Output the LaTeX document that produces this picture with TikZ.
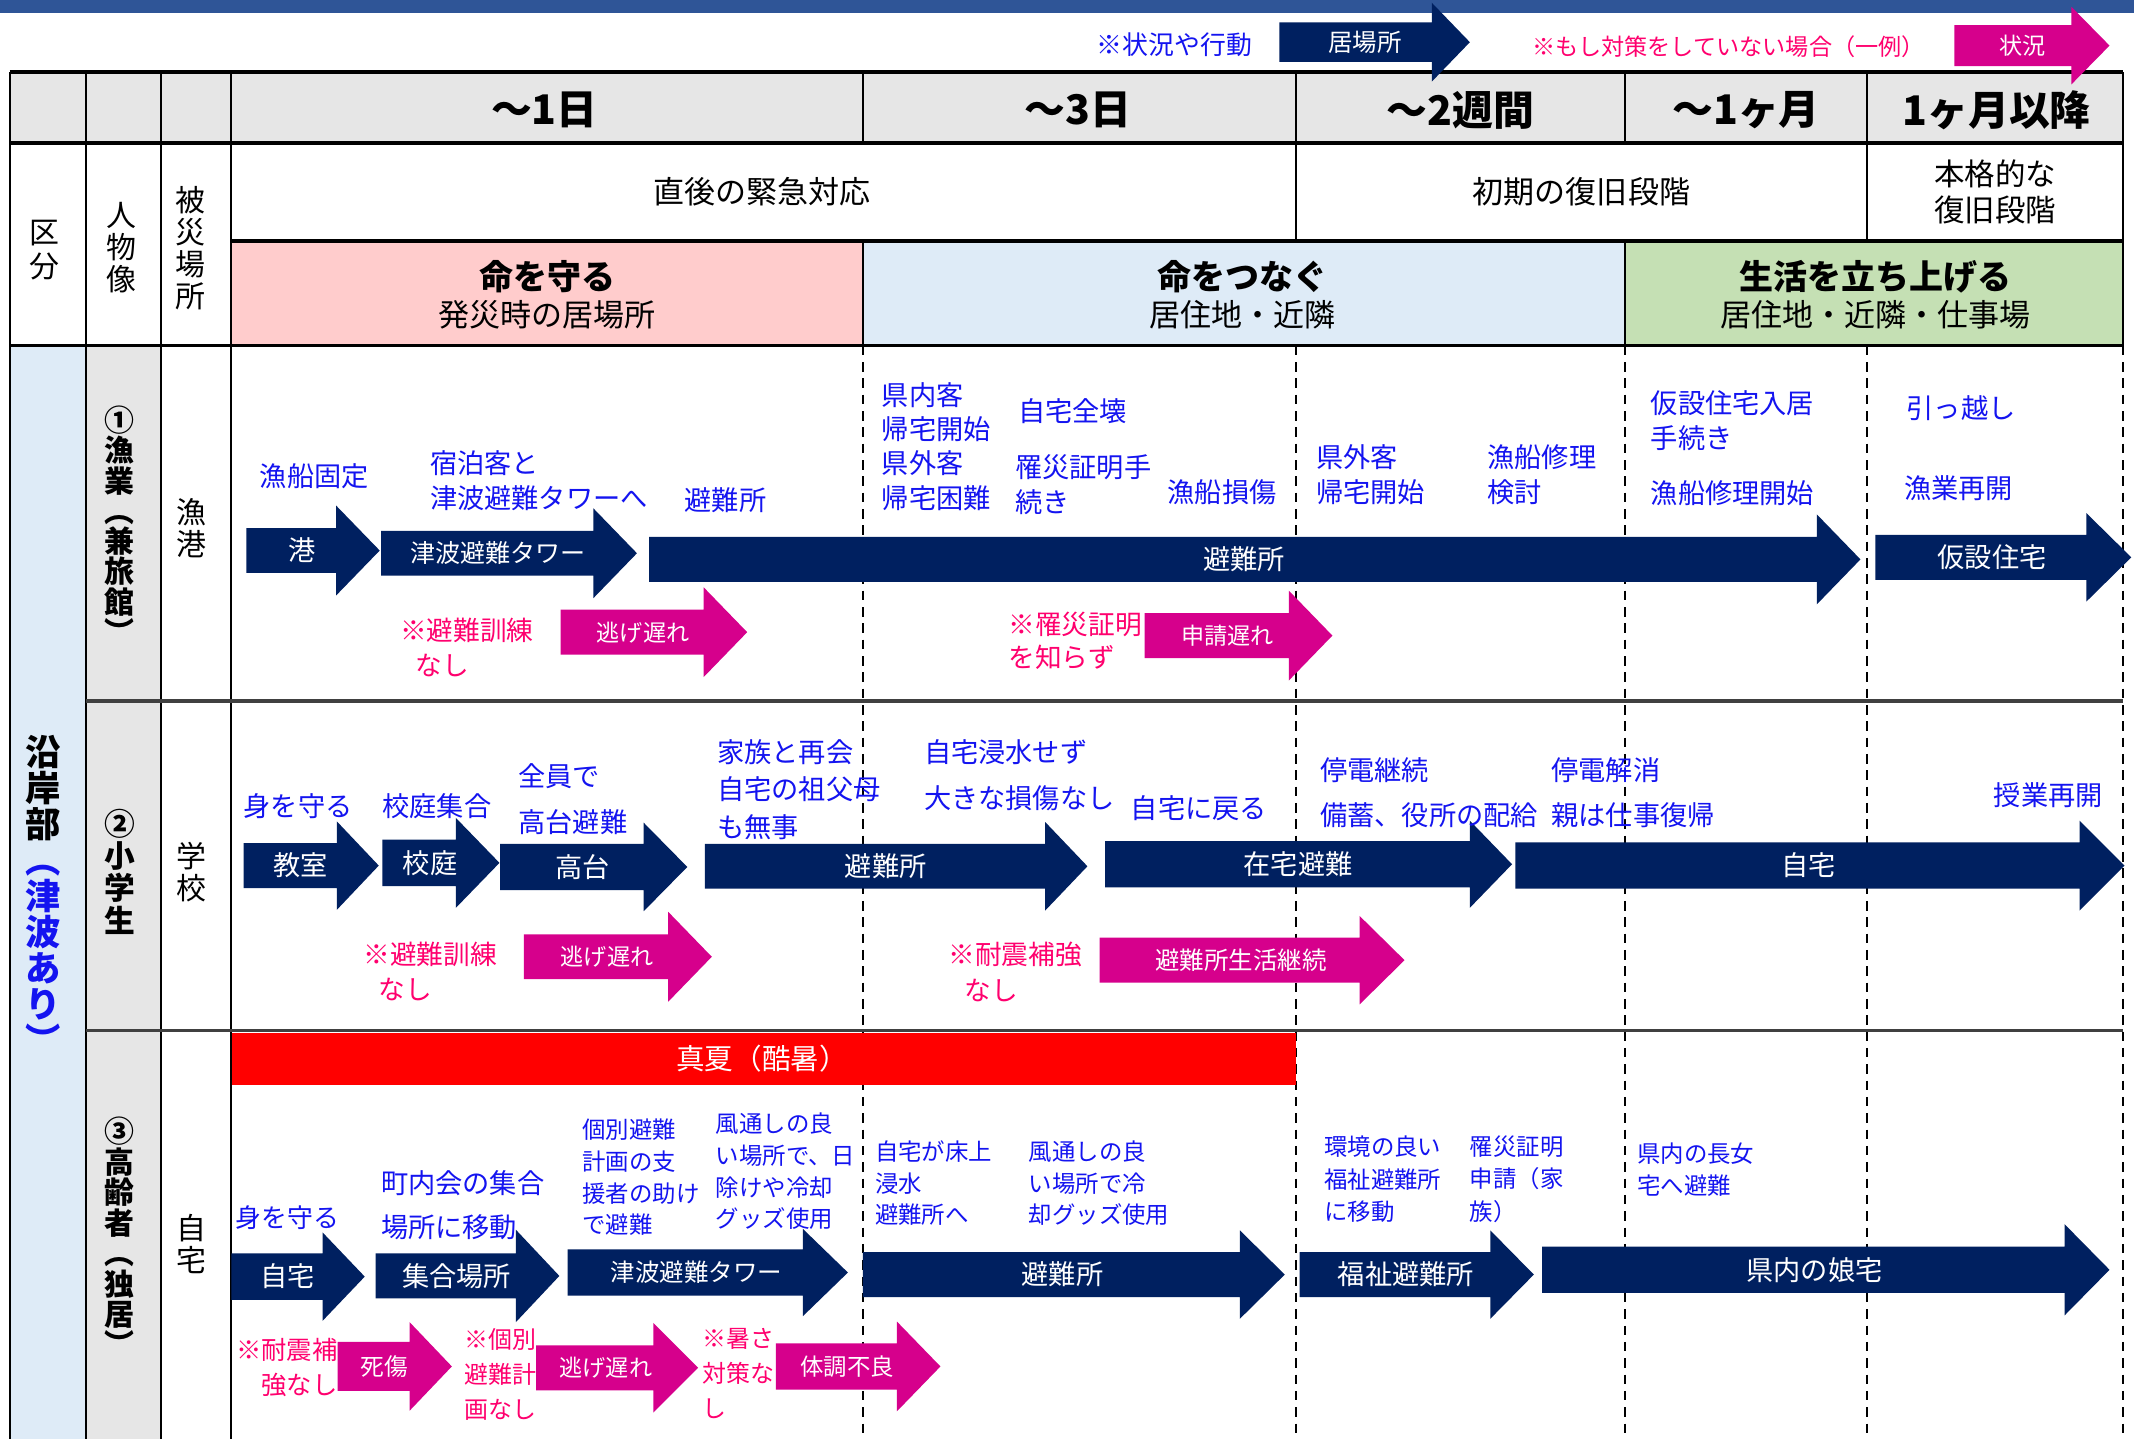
\documentclass[tikz,border=0pt]{standalone}
\usepackage{fontspec}
\setmainfont{Noto Sans CJK JP}
\definecolor{navy}{RGB}{0,32,96}
\definecolor{mag}{RGB}{214,0,140}
\definecolor{tblue}{RGB}{20,20,240}
\definecolor{tpink}{RGB}{255,0,110}
\definecolor{topbar}{RGB}{47,85,151}
\definecolor{hgray}{RGB}{230,230,230}
\definecolor{cpink}{RGB}{255,204,204}
\definecolor{cblue}{RGB}{222,235,247}
\definecolor{cgreen}{RGB}{197,224,180}
\definecolor{sepgray}{RGB}{64,64,64}
\newcommand\fs[2]{\fontsize{#1}{#2}\selectfont}
\tikzset{
  tx/.style={inner sep=0pt, outer sep=0pt},
  bluetxt/.style={tx, text=tblue, align=left, anchor=west, font=\fs{10}{12.8}},
  pinktxt/.style={tx, text=tpink, align=left, anchor=west, font=\fs{9.8}{12.8}},
  arrtxt/.style={tx, text=white, font=\fs{10}{12}},
  headtxt/.style={tx, font=\fs{15}{18}\bfseries},
  plaintxt/.style={tx, font=\fs{11.4}{14}},
  titletxt/.style={tx, font=\fs{12.5}{15}\bfseries},
  verttxt/.style={tx, align=center},
  thinline/.style={line width=0.75pt, black},
  thickline/.style={line width=1.3pt, black},
  sepline/.style={line width=1.2pt, sepgray},
  dashline/.style={line width=0.75pt, black, dash pattern=on 3.5pt off 2.5pt},
}
\newcommand\myarrow[9]{%
  \fill[#1] (#2,#5-#6) -- (#3,#5-#6) -- (#3,#5-#7) -- (#4,#5) -- (#3,#5+#7) -- (#3,#5+#6) -- (#2,#5+#6) -- cycle;
  \node[arrtxt] (#8) at ({(2*#2+#3+#4)/4},#5) {#9};}
\begin{document}
\begin{tikzpicture}[x=0.5pt,y=-0.5pt]
\useasboundingbox (0,0) rectangle (1568,1057);
\fill[white] (0,0) rectangle (1568,1057);
\fill[topbar] (0,0) rectangle (1568,9.5);
% cell fills
\fill[hgray] (7,53) rectangle (1560,105);
\fill[cpink] (170,177) rectangle (634,254);
\fill[cblue] (634,177) rectangle (1194,254);
\fill[cgreen] (1194,177) rectangle (1560,254);
\fill[cblue] (7,254) rectangle (63,1057);
\fill[hgray] (63,254) rectangle (118,1057);
% dashed time lines
\foreach \x in {634,952,1194,1372,1560} \draw[dashline] (\x,254) -- (\x,1057);
% heat bar
\fill[red] (170,759) rectangle (952,797);
% solid grid
\foreach \x in {7,63,118,170} \draw[thinline] (\x,53) -- (\x,1057);
\foreach \x in {634,952,1194,1372} \draw[thinline] (\x,53) -- (\x,105);
\draw[thinline] (1560,53) -- (1560,254);
\foreach \x in {952,1372} \draw[thinline] (\x,105) -- (\x,177);
\foreach \x in {634,1194} \draw[thinline] (\x,177) -- (\x,254);
\foreach \y in {53,105,254} \draw[thickline] (7,\y) -- (1560,\y);
\draw[thickline] (170,177) -- (1560,177);
\foreach \y in {515,757} \draw[sepline] (63,\y) -- (1560,\y);

% legend
\node[tx, text=tblue, font=\fs{9.5}{11}] (lg1) at (863,33) {※状況や行動};
\myarrow{navy}{940}{1052}{1080}{31}{14.5}{29}{lg2}{\fs{9}{10}居場所}
\node[tx, text=tpink, font=\fs{8.5}{10}] (lg3) at (1270,34) {※もし対策をしていない場合（一例）};
\myarrow{mag}{1436}{1522}{1550}{33.5}{15}{28.5}{lg4}{\fs{8.5}{10}状況}

% header row
\node[headtxt] (h1) at (400,81) {～1日};
\node[headtxt] (h2) at (792,81) {～3日};
\node[headtxt] (h3) at (1073,81) {～2週間};
\node[headtxt] (h4) at (1283,81) {～1ヶ月};
\node[headtxt] (h5) at (1467,81) {1ヶ月以降};

\node[plaintxt] (p1) at (560,141) {直後の緊急対応};
\node[plaintxt] (p2) at (1162,141) {初期の復旧段階};
\node[plaintxt, align=center, font=\fs{11.2}{13.5}] (p3) at (1466,141) {本格的な\\復旧段階};

\node[titletxt] (t1) at (402,203) {命を守る};
\node[plaintxt] (s1) at (402,231.5) {発災時の居場所};
\node[titletxt] (t2) at (913,203) {命をつなぐ};
\node[plaintxt] (s2) at (913,231.5) {居住地・近隣};
\node[titletxt] (t3) at (1378,203) {生活を立ち上げる};
\node[plaintxt] (s3) at (1378,231.5) {居住地・近隣・仕事場};

\node[verttxt, font=\fs{11}{12.5}] (k1) at (33,183.5) {区\\分};
\node[verttxt, font=\fs{11}{11.7}] (k2) at (89,182) {人\\物\\像};
\node[verttxt, font=\fs{11}{11.8}] (k3) at (140,182.5) {被\\災\\場\\所};

% left columns
\node[verttxt, font=\fs{13}{13.25}\bfseries] (region) at (32,657) {沿\\岸\\部\\\textcolor{tblue}{︵}\\\textcolor{tblue}{津}\\\textcolor{tblue}{波}\\\textcolor{tblue}{あ}\\\textcolor{tblue}{り}\\\textcolor{tblue}{︶}};
\node[verttxt, font=\fs{11}{11.1}\bfseries] (pp1) at (88,385.5) {①\\漁\\業\\︵\\兼\\旅\\館\\︶};
\node[verttxt, font=\fs{11.3}{11.8}\bfseries] (pp2) at (88,640.5) {②\\小\\学\\生};
\node[verttxt, font=\fs{11}{11.2}\bfseries] (pp3) at (88,908.5) {③\\高\\齢\\者\\︵\\独\\居\\︶};
\node[verttxt, font=\fs{11}{11.75}] (pl1) at (141,388) {漁\\港};
\node[verttxt, font=\fs{11}{11.75}] (pl2) at (141,641) {学\\校};
\node[verttxt, font=\fs{11}{11.75}] (pl3) at (141,914) {自\\宅};

% row 1 arrows
\myarrow{navy}{181}{247}{279}{404.5}{16.5}{33}{n11}{港}
\myarrow{navy}{280}{436}{468}{406.5}{16.5}{33}{n12}{\fs{9.2}{11}津波避難タワー}
\myarrow{navy}{477}{1335}{1367}{411}{16.6}{33}{n13}{避難所}
\myarrow{navy}{1378}{1533}{1566}{409.5}{16.5}{32.5}{n14}{仮設住宅}
\myarrow{mag}{412}{517}{549}{464.5}{16.5}{33}{m11}{\fs{8.5}{10}逃げ遅れ}
\myarrow{mag}{841}{947}{979}{467}{16.5}{33}{m12}{\fs{8.5}{10}申請遅れ}

% row 1 texts
\node[bluetxt] (b11) at (191,350) {漁船固定};
\node[bluetxt, font=\fs{10}{12.8}] (b12) at (316,353) {宿泊客と\\津波避難タワーへ};
\node[bluetxt] (b13) at (503,367.5) {避難所};
\node[bluetxt, font=\fs{10}{12.65}] (b14) at (648,328) {県内客\\帰宅開始\\県外客\\帰宅困難};
\node[bluetxt] (b15) at (748,302) {自宅全壊};
\node[bluetxt, font=\fs{10}{13}] (b16) at (746,356) {罹災証明手\\続き};
\node[bluetxt] (b17) at (858,361.5) {漁船損傷};
\node[bluetxt, font=\fs{10}{12.75}] (b18) at (967,349) {県外客\\帰宅開始};
\node[bluetxt, font=\fs{10}{12.75}] (b19) at (1093,349) {漁船修理\\検討};
\node[bluetxt, font=\fs{10}{13}] (b1a) at (1213,309) {仮設住宅入居\\手続き};
\node[bluetxt] (b1b) at (1213,362) {漁船修理開始};
\node[bluetxt] (b1c) at (1401,300) {引っ越し};
\node[bluetxt] (b1d) at (1399,359) {漁業再開};
\node[pinktxt, font=\fs{9.8}{12.8}] (r11) at (294,476) {※避難訓練\\\hspace*{5.8pt}なし};
\node[pinktxt, font=\fs{9.8}{12.25}] (r12) at (741,471) {※罹災証明\\を知らず};

% row 2 arrows
\myarrow{navy}{179}{247.5}{278.3}{636}{16.5}{32.5}{n21}{教室}
\myarrow{navy}{281}{335}{367}{634}{17}{33}{n22}{校庭}
\myarrow{navy}{367.5}{473}{505}{637}{17}{32.5}{n23}{高台}
\myarrow{navy}{518}{768}{799}{636.5}{16.5}{32.5}{n24}{避難所}
\myarrow{navy}{812}{1080}{1111}{635}{17}{32}{n25}{在宅避難}
\myarrow{navy}{1113.5}{1528}{1561}{636}{17}{33}{n26}{自宅}
\myarrow{mag}{385}{491}{523}{703}{16.5}{33}{m21}{\fs{8.5}{10}逃げ遅れ}
\myarrow{mag}{808}{999}{1032}{705.5}{16.5}{32.5}{m22}{\fs{9}{10}避難所生活継続}

% row 2 texts
\node[bluetxt] (b21) at (179,592) {身を守る};
\node[bluetxt] (b22) at (281,592) {校庭集合};
\node[bluetxt, font=\fs{10}{17}] (b23) at (381,587) {全員で\\高台避難};
\node[bluetxt, font=\fs{10}{13.75}] (b24) at (527,580) {家族と再会\\自宅の祖父母\\も無事};
\node[bluetxt, font=\fs{10}{17}] (b25) at (679,569.5) {自宅浸水せず\\大きな損傷なし};
\node[bluetxt] (b26) at (831,594) {自宅に戻る};
\node[bluetxt, font=\fs{10}{16.5}] (b27) at (970,582.5) {停電継続\\備蓄、役所の配給};
\node[bluetxt, font=\fs{10}{16.5}] (b28) at (1140,582.5) {停電解消\\親は仕事復帰};
\node[bluetxt] (b29) at (1465,584) {授業再開};
\node[pinktxt, font=\fs{9.8}{13}] (r21) at (267,714) {※避難訓練\\\hspace*{5.5pt}なし};
\node[pinktxt, font=\fs{9.8}{13}] (r22) at (697,714) {※耐震補強\\\hspace*{6pt}なし};

% row 3
\node[tx, text=white, font=\fs{10.5}{12}] (heat) at (560,778) {真夏（酷暑）};
\myarrow{navy}{170}{237}{268}{938}{17}{32.5}{n31}{自宅}
\myarrow{navy}{276}{379}{411}{937.5}{16.5}{34}{n32}{集合場所}
\myarrow{navy}{417}{590}{623}{935}{17}{32}{n33}{\fs{9}{10}津波避難タワー}
\myarrow{navy}{634}{911}{944}{936.5}{16.5}{32.5}{n34}{避難所}
\myarrow{navy}{955}{1095}{1127}{936.5}{16.5}{32.5}{n35}{福祉避難所}
\myarrow{navy}{1133}{1517}{1550}{933}{17}{33.5}{n36}{県内の娘宅}
\myarrow{mag}{248}{301}{332}{1004}{18}{32.5}{m31}{\fs{8.7}{10}死傷}
\myarrow{mag}{394}{480}{513}{1005}{16.5}{33}{m32}{\fs{8.5}{10}逃げ遅れ}
\myarrow{mag}{570}{659}{691}{1004}{17}{33}{m33}{\fs{8.6}{10}体調不良}

\node[bluetxt, font=\fs{9.5}{12}] (b31) at (173,895) {身を守る};
\node[bluetxt, font=\fs{10}{16.5}] (b32) at (280,885.5) {町内会の集合\\場所に移動};
\node[bluetxt, font=\fs{8.6}{11.7}] (b33) at (428,865) {個別避難\\計画の支\\援者の助け\\で避難};
\node[bluetxt, font=\fs{8.6}{11.7}] (b34) at (526,860.6) {風通しの良\\い場所で、日\\除けや冷却\\グッズ使用};
\node[bluetxt, font=\fs{8.6}{11.5}] (b35) at (643,869.3) {自宅が床上\\浸水\\避難所へ};
\node[bluetxt, font=\fs{8.6}{11.5}] (b36) at (756,869.5) {風通しの良\\い場所で冷\\却グッズ使用};
\node[bluetxt, font=\fs{8.6}{12}] (b37) at (973,866.4) {環境の良い\\福祉避難所\\に移動};
\node[bluetxt, font=\fs{8.6}{12}] (b38) at (1080,866.4) {罹災証明\\申請（家\\族）};
\node[bluetxt, font=\fs{8.6}{11.5}] (b39) at (1203,859.5) {県内の長女\\宅へ避難};
\node[pinktxt, anchor=east, align=right, font=\fs{9.3}{12.8}] (r31) at (248,1005) {※耐震補\\強なし};
\node[pinktxt, font=\fs{8.8}{12.85}] (r32) at (341,1010) {※個別\\避難計\\画なし};
\node[pinktxt, font=\fs{8.8}{12.85}] (r33) at (516,1009.5) {※暑さ\\対策な\\し};
\end{tikzpicture}
\end{document}
